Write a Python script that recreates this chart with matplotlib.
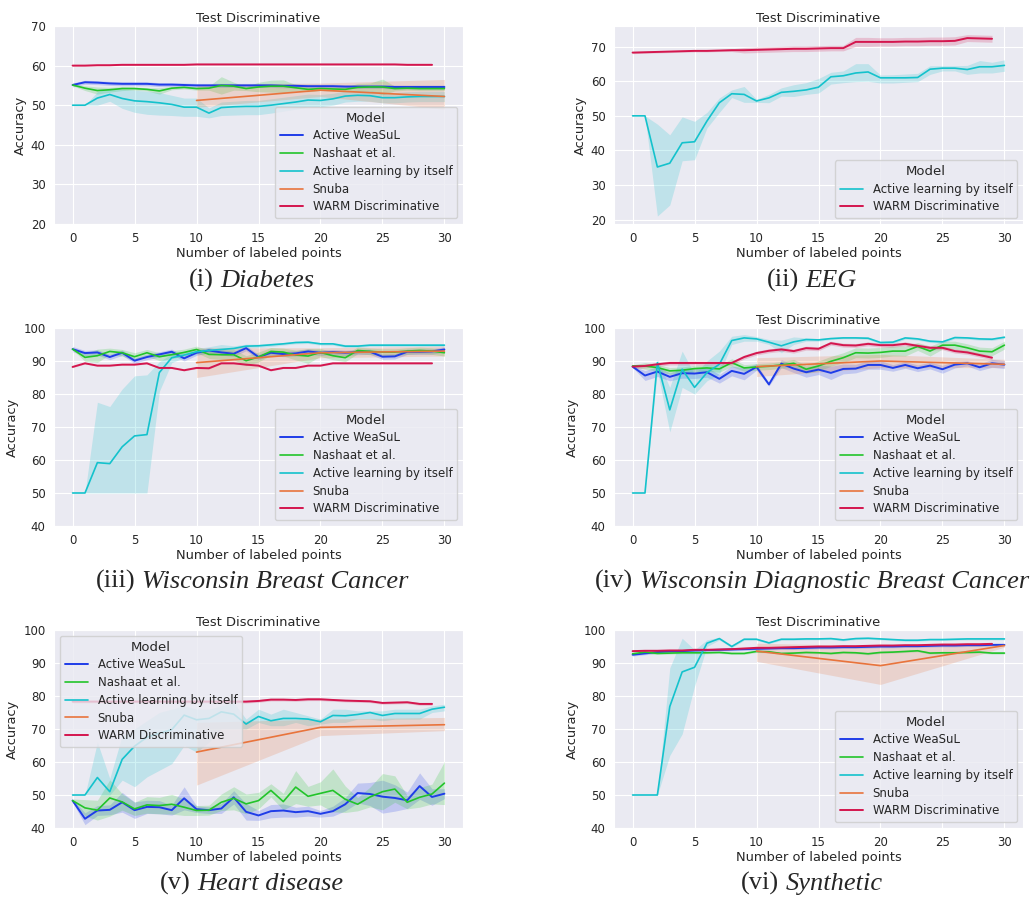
import matplotlib
matplotlib.use("Agg")
import matplotlib.pyplot as plt
import seaborn as sns
import numpy as np

sns.set_style("darkgrid")
plt.rcParams['font.family'] = ['DejaVu Sans']

# colours per model (seaborn-ish palette)
C_WEASUL = '#1f3de8'
C_NASH = '#22c42a'
C_AL = '#14c2cc'
C_SNUBA = '#e8743c'
C_WARM = '#d4164e'

x31 = list(range(31))
x30 = list(range(30))
x_snuba = [10, 20, 30]

# ---------------- (i) Diabetes ----------------
diab_weasul = [55.1, 55.8, 55.7, 55.5, 55.4, 55.4, 55.4, 55.2, 55.2, 55.1, 55.0, 55.0, 55.0, 55.0, 55.0, 55.0,
               55.0, 54.9, 54.9, 54.8, 54.8, 54.8, 54.7, 54.7, 54.7, 54.7, 54.6, 54.6, 54.6, 54.6, 54.6]
diab_weasul_err = 0.5
diab_nash = [55.1, 54.3, 53.7, 53.9, 54.2, 54.2, 54.0, 53.6, 54.3, 54.5, 54.2, 54.3, 55.0, 54.8, 54.2, 54.6,
             54.8, 54.8, 54.4, 54.0, 54.2, 54.1, 54.0, 54.5, 54.6, 54.6, 54.2, 54.3, 54.2, 54.2, 54.2]
diab_nash_err = [0.2, 0.6, 0.9, 0.6, 0.5, 0.4, 0.4, 0.8, 0.4, 0.4, 0.4, 0.5, 2.2, 1.0, 0.5, 1.2,
                 1.5, 1.6, 0.8, 0.6, 0.5, 0.5, 0.6, 1.0, 1.0, 2.0, 0.6, 0.5, 0.5, 0.5, 0.5]
diab_al = [50, 50, 51.8, 52.7, 51.7, 51.1, 50.9, 50.6, 50.2, 49.5, 49.5, 48.0, 49.4, 49.6, 49.7, 49.7,
           50.0, 50.4, 50.8, 51.3, 51.2, 51.6, 52.3, 52.5, 52.4, 51.9, 51.9, 52.1, 52.2, 52.2, 52.2]
diab_al_lo = [50, 50, 50.0, 51.0, 49.2, 48.2, 47.7, 47.5, 47.4, 47.2, 47.2, 46.8, 47.4, 47.5, 47.6, 47.6,
              48.0, 48.5, 49.0, 49.6, 49.6, 50.0, 50.8, 51.0, 51.0, 50.6, 50.6, 50.8, 50.9, 50.9, 50.9]
diab_al_hi = [50, 50, 53.4, 54.3, 54.0, 53.8, 53.5, 53.2, 52.5, 51.8, 51.8, 49.3, 50.8, 51.0, 51.2, 51.2,
              51.6, 52.0, 52.4, 52.8, 52.7, 53.0, 53.6, 53.8, 53.7, 53.2, 53.2, 53.4, 53.5, 53.5, 53.5]
diab_snuba = [51.2, 53.8, 52.2]
diab_snuba_lo = [49.5, 52.2, 49.0]
diab_snuba_hi = [55.3, 55.6, 56.5]
diab_warm = [60.0, 60.0, 60.1, 60.1, 60.2, 60.2, 60.2, 60.2, 60.2, 60.2, 60.3, 60.3, 60.3, 60.3, 60.3,
             60.3, 60.3, 60.3, 60.3, 60.3, 60.3, 60.3, 60.3, 60.3, 60.3, 60.3, 60.3, 60.2, 60.2, 60.2]
diab_warm_err = 0.15

# ---------------- (ii) EEG ----------------
eeg_al = [50, 50, 35.2, 36.3, 42.2, 42.5, 48.5, 53.8, 56.4, 56.2, 54.3, 55.2, 56.8, 57.1, 57.5, 58.3,
          61.3, 61.6, 62.4, 62.7, 61.0, 61.0, 61.0, 61.1, 63.5, 63.8, 63.8, 63.4, 64.2, 64.2, 64.6]
eeg_al_lo = [50, 50, 21.0, 24.2, 37.0, 37.3, 46.5, 51.0, 55.3, 53.9, 53.9, 53.8, 55.7, 55.6, 56.2, 56.6,
             59.2, 59.6, 59.9, 60.0, 59.5, 59.5, 59.7, 59.9, 62.0, 63.0, 63.0, 62.0, 62.4, 62.4, 62.9]
eeg_al_hi = [50, 50, 47.6, 44.5, 49.7, 48.4, 51.0, 55.2, 57.5, 58.5, 54.8, 56.2, 58.1, 59.0, 59.6, 60.8,
             62.6, 63.0, 65.1, 65.1, 61.8, 61.9, 62.1, 62.3, 64.5, 64.5, 64.5, 64.6, 66.0, 65.5, 66.2]
eeg_warm = [68.3, 68.4, 68.5, 68.6, 68.7, 68.8, 68.8, 68.9, 69.0, 69.0, 69.1, 69.2, 69.3, 69.4, 69.4,
            69.5, 69.6, 69.6, 71.4, 71.4, 71.4, 71.4, 71.5, 71.5, 71.6, 71.6, 71.7, 72.5, 72.4, 72.3]
eeg_warm_err = [0.3, 0.3, 0.3, 0.3, 0.3, 0.3, 0.3, 0.3, 0.4, 0.8, 0.8, 0.8, 0.8, 0.8, 0.8,
                0.8, 0.8, 0.8, 1.3, 1.3, 1.2, 1.2, 1.2, 1.2, 1.2, 1.2, 1.2, 1.0, 1.0, 1.0]

# ---------------- (iii) Wisconsin Breast Cancer ----------------
wbc_weasul = [93.6, 92.4, 92.6, 91.2, 92.5, 90.1, 91.2, 92.0, 92.8, 90.8, 92.5, 93.2, 92.6, 92.2, 93.9, 91.2,
              92.5, 92.1, 92.3, 92.9, 92.5, 92.7, 92.5, 92.7, 92.8, 91.3, 91.4, 92.8, 92.8, 92.9, 93.5]
wbc_weasul_err = 0.8
wbc_nash = [93.6, 91.1, 91.6, 92.9, 92.5, 91.3, 92.5, 91.3, 91.9, 92.6, 93.5, 92.0, 91.9, 91.9, 90.1, 91.2,
            92.9, 92.7, 91.8, 91.5, 92.6, 91.6, 91.0, 93.2, 92.9, 92.7, 92.7, 93.0, 93.2, 93.0, 92.5]
wbc_nash_err = [0.2, 1.2, 2.0, 1.0, 1.0, 1.2, 1.0, 1.2, 1.2, 1.0, 1.0, 1.2, 1.5, 1.5, 1.5, 1.5,
                1.2, 1.2, 1.5, 2.2, 1.2, 1.2, 1.2, 1.0, 1.0, 1.0, 1.0, 1.0, 1.0, 1.0, 1.0]
wbc_al = [50, 50, 59.2, 58.9, 64.0, 67.3, 67.7, 86.5, 91.0, 91.8, 92.8, 93.2, 93.5, 93.8, 94.5, 94.6,
          94.9, 95.2, 95.6, 95.7, 95.2, 95.2, 94.5, 94.5, 94.8, 94.8, 94.8, 94.8, 94.8, 94.8, 94.8]
wbc_al_lo = [50, 50, 50, 50, 50, 50, 50, 80.8, 89.5, 91.0, 92.0, 92.4, 92.8, 93.1, 93.9, 94.1,
             94.4, 94.8, 95.2, 95.3, 94.8, 94.8, 94.1, 94.1, 94.4, 94.4, 94.4, 94.4, 94.4, 94.4, 94.4]
wbc_al_hi = [50, 50, 77.5, 76.2, 81.5, 85.5, 85.8, 89.8, 92.2, 93.0, 93.8, 94.3, 95.0, 94.6, 95.1, 95.1,
             95.4, 95.6, 96.0, 96.1, 95.6, 95.6, 95.0, 95.0, 95.2, 95.2, 95.2, 95.2, 95.2, 95.2, 95.2]
wbc_snuba = [89.5, 92.5, 93.0]
wbc_snuba_lo = [85.0, 91.0, 91.5]
wbc_snuba_hi = [94.0, 94.0, 94.5]
wbc_warm = [88.2, 89.3, 88.6, 88.6, 88.9, 88.9, 89.3, 87.9, 87.9, 87.2, 87.9, 87.8, 89.3, 89.3, 88.9,
            88.6, 87.2, 87.9, 87.9, 88.6, 88.6, 89.3, 89.3, 89.3, 89.3, 89.3, 89.3, 89.3, 89.3, 89.3]
wbc_warm_err = 0.2

# ---------------- (iv) Wisconsin Diagnostic Breast Cancer ----------------
wdbc_weasul = [88.3, 85.6, 86.8, 85.2, 86.3, 86.2, 86.6, 84.6, 87.0, 86.1, 88.2, 82.9, 89.2, 87.7, 86.6, 87.4,
               86.4, 87.6, 87.7, 88.8, 88.8, 87.9, 88.8, 87.8, 88.6, 87.5, 88.9, 89.3, 88.1, 89.3, 88.9]
wdbc_weasul_err = [0.3, 1.5, 1.5, 1.2, 1.5, 1.5, 1.5, 1.3, 1.5, 1.8, 1.0, 0.5, 1.2, 1.2, 1.5, 1.5,
                   2.0, 1.5, 1.3, 1.3, 1.3, 1.0, 1.0, 1.0, 1.0, 1.2, 1.0, 0.8, 1.0, 1.2, 1.2]
wdbc_nash = [88.5, 88.5, 88.0, 87.0, 87.2, 87.7, 87.9, 87.6, 89.5, 87.9, 88.2, 88.4, 88.8, 89.3, 87.5, 88.5,
             89.9, 91.0, 92.5, 92.4, 92.6, 93.0, 93.0, 94.4, 93.0, 94.8, 94.8, 94.0, 93.0, 92.8, 94.8]
wdbc_nash_err = [0.3, 1.0, 1.0, 1.0, 1.0, 1.0, 1.0, 1.0, 1.2, 1.0, 1.0, 1.0, 1.0, 1.2, 1.2, 1.5,
                 1.5, 1.5, 1.5, 1.5, 1.5, 1.5, 1.5, 1.2, 1.5, 1.2, 1.2, 1.2, 1.2, 1.2, 1.2]
wdbc_al = [50, 50, 89.5, 75.2, 87.5, 82.0, 86.5, 89.0, 96.2, 97.0, 96.7, 95.7, 94.6, 95.8, 96.5, 96.4,
           96.8, 97.0, 97.0, 96.9, 95.6, 95.7, 97.0, 96.7, 96.0, 95.8, 97.1, 97.0, 96.7, 96.6, 97.2]
wdbc_al_lo = [50, 50, 87.0, 68.5, 82.0, 80.0, 84.0, 86.0, 95.0, 96.0, 96.0, 95.0, 92.5, 95.0, 96.0, 96.0,
              96.5, 96.7, 96.7, 96.5, 95.2, 95.2, 96.6, 96.3, 95.6, 95.4, 96.7, 96.6, 96.3, 96.2, 96.8]
wdbc_al_hi = [50, 50, 90.5, 82.0, 93.0, 86.0, 90.0, 93.0, 97.5, 98.0, 97.4, 96.5, 96.3, 97.3, 97.0, 96.8,
              97.1, 97.3, 97.3, 97.3, 96.0, 96.2, 97.4, 97.1, 96.4, 96.2, 97.5, 97.4, 97.1, 97.0, 97.6]
wdbc_snuba = [88.3, 90.0, 89.0]
wdbc_snuba_lo = [85.3, 88.0, 88.0]
wdbc_snuba_hi = [91.0, 92.0, 90.5]
wdbc_warm = [88.3, 88.5, 89.0, 89.4, 89.4, 89.4, 89.4, 89.4, 89.4, 91.2, 92.4, 93.1, 93.5, 93.0, 93.9,
             93.7, 95.4, 94.8, 94.7, 95.2, 94.8, 94.8, 95.2, 94.6, 94.0, 94.0, 93.0, 92.6, 91.8, 91.0]
wdbc_warm_err = 0.6

# ---------------- (v) Heart disease ----------------
heart_weasul = [48.3, 42.8, 45.3, 45.5, 47.8, 45.4, 46.4, 46.3, 45.4, 49.0, 45.7, 45.4, 45.9, 49.3, 44.9, 43.8,
                45.1, 45.3, 44.8, 45.1, 44.3, 45.1, 47.2, 50.6, 50.3, 49.5, 49.1, 48.4, 52.7, 49.4, 50.4]
heart_weasul_err = [0.5, 1.8, 1.5, 1.5, 3.0, 2.5, 2.0, 2.0, 1.5, 3.5, 1.0, 1.0, 1.5, 2.0, 2.5, 1.5,
                    2.0, 2.0, 1.5, 1.5, 1.0, 1.5, 2.0, 3.0, 3.5, 5.0, 4.0, 2.5, 4.0, 2.5, 1.5]
heart_nash = [48.3, 46.1, 45.4, 49.1, 47.9, 45.8, 47.0, 46.8, 47.2, 46.3, 45.3, 45.4, 47.8, 49.0, 47.3, 48.3,
              51.4, 48.0, 52.4, 49.6, 50.5, 51.4, 48.7, 47.2, 49.4, 51.0, 51.8, 47.8, 49.3, 50.3, 53.6]
heart_nash_err = [0.5, 2.5, 3.0, 5.5, 2.5, 2.0, 2.5, 2.5, 3.0, 2.5, 1.5, 1.5, 2.5, 3.5, 3.0, 2.5,
                  2.0, 2.5, 5.0, 3.0, 3.5, 6.5, 4.0, 2.0, 3.0, 5.5, 4.0, 2.0, 3.0, 3.0, 6.5]
heart_al = [50, 50, 55.3, 51.0, 60.8, 64.8, 67.5, 68.7, 69.8, 74.2, 72.8, 73.2, 75.2, 74.5, 71.5, 73.8,
            72.5, 73.2, 73.2, 73.0, 72.2, 74.1, 74.0, 74.4, 75.0, 74.1, 74.7, 74.7, 74.7, 76.0, 76.6]
heart_al_lo = [50, 50, 50, 50, 54.5, 52.5, 55.5, 57.5, 59.5, 65.0, 63.0, 66.0, 70.0, 70.0, 70.0, 72.0,
               71.0, 71.0, 72.0, 71.0, 71.5, 72.0, 72.0, 73.0, 73.0, 72.5, 73.0, 73.0, 73.0, 75.0, 75.5]
heart_al_hi = [50, 50, 66.0, 55.0, 68.0, 70.0, 72.5, 75.0, 76.0, 77.0, 76.0, 76.0, 77.0, 78.0, 73.0, 76.0,
               74.5, 76.0, 75.0, 74.0, 73.0, 76.0, 76.0, 75.5, 75.5, 75.5, 76.0, 76.0, 76.0, 77.0, 77.5]
heart_snuba = [63.0, 70.5, 71.3]
heart_snuba_lo = [53.0, 68.0, 69.5]
heart_snuba_hi = [72.0, 73.0, 73.5]
heart_warm = [78.3, 78.3, 78.3, 78.3, 78.3, 78.3, 78.3, 78.3, 78.3, 78.3, 78.3, 78.3, 78.3, 78.3, 78.3,
              78.5, 78.9, 78.9, 78.8, 79.0, 79.0, 78.8, 78.6, 78.5, 78.4, 77.9, 78.0, 78.1, 77.6, 77.6]
heart_warm_err = 0.4

# ---------------- (vi) Synthetic ----------------
syn_weasul = [92.5, 92.9, 93.3, 93.5, 93.6, 93.8, 93.9, 94.0, 94.1, 94.2, 94.3, 94.4, 94.5, 94.5, 94.6, 94.7,
              94.7, 94.8, 94.8, 94.9, 95.0, 95.0, 95.1, 95.1, 95.2, 95.3, 95.3, 95.4, 95.4, 95.5, 95.5]
syn_weasul_err = 0.4
syn_nash = [92.8, 93.3, 92.9, 93.0, 93.1, 93.1, 93.1, 93.2, 92.9, 92.9, 93.5, 93.4, 92.9, 93.0, 93.2, 93.1,
            92.9, 93.2, 93.1, 92.8, 93.2, 93.3, 93.5, 93.7, 93.0, 93.1, 93.1, 93.2, 93.3, 93.0, 93.0]
syn_nash_err = 0.3
syn_al = [50, 50, 50, 76.8, 87.3, 88.7, 96.0, 97.4, 95.0, 97.2, 97.2, 96.1, 97.2, 97.2, 97.3, 97.3,
          97.4, 97.0, 97.4, 97.5, 97.3, 97.1, 96.9, 96.9, 97.1, 97.1, 97.2, 97.3, 97.3, 97.3, 97.3]
syn_al_lo = [50, 50, 50, 62.0, 68.5, 83.0, 95.0, 97.0, 94.6, 96.9, 96.9, 95.8, 96.9, 96.9, 97.0, 97.0,
             97.1, 96.7, 97.1, 97.2, 97.0, 96.8, 96.6, 96.6, 96.8, 96.8, 96.9, 97.0, 97.0, 97.0, 97.0]
syn_al_hi = [50, 50, 50, 88.5, 97.5, 94.0, 97.0, 97.8, 95.4, 97.5, 97.5, 96.4, 97.5, 97.5, 97.6, 97.6,
             97.7, 97.3, 97.7, 97.8, 97.6, 97.4, 97.2, 97.2, 97.4, 97.4, 97.5, 97.6, 97.6, 97.6, 97.6]
syn_snuba = [93.6, 89.2, 95.3]
syn_snuba_lo = [90.5, 83.5, 94.8]
syn_snuba_hi = [96.0, 95.2, 95.8]
syn_warm = [93.6, 93.7, 93.7, 93.8, 93.8, 94.0, 94.0, 94.1, 94.2, 94.4, 94.6, 94.6, 94.7, 94.8, 94.9,
            95.0, 95.0, 95.1, 95.1, 95.2, 95.3, 95.3, 95.4, 95.4, 95.5, 95.6, 95.6, 95.7, 95.7, 95.8]
syn_warm_err = 0.2


def draw(ax, x, y, color, label, lo=None, hi=None, err=None, lw=1.2):
    y = np.asarray(y, dtype=float)
    if err is not None:
        lo = y - np.asarray(err)
        hi = y + np.asarray(err)
    ax.fill_between(x, lo, hi, color=color, alpha=0.2, linewidth=0)
    ax.plot(x, y, color=color, lw=lw, label=label)


def style(ax, ylim, yticks, legend_loc):
    ax.set_xlim(-1.5, 31.5)
    ax.set_ylim(*ylim)
    ax.set_xticks([0, 5, 10, 15, 20, 25, 30])
    ax.set_yticks(yticks)
    ax.tick_params(labelsize=8.5, pad=2.5)
    ax.set_title('Test Discriminative', fontsize=9.4, pad=3)
    ax.set_xlabel('Number of labeled points', fontsize=9.4, labelpad=1)
    ax.set_ylabel('Accuracy', fontsize=9.4, labelpad=3)
    ax.legend(loc=legend_loc, title='Model', fontsize=8.5, title_fontsize=9.5, labelspacing=0.4)


fig = plt.figure(figsize=(10.34, 8.99), dpi=100)
W, H = 1034, 899


def axes_at(left, top):
    return fig.add_axes([left / W, 1 - (top + 198) / H, 409 / W, 198 / H])


# (i)
ax = axes_at(54, 26)
draw(ax, x31, diab_weasul, C_WEASUL, 'Active WeaSuL', err=diab_weasul_err, lw=1.4)
draw(ax, x31, diab_nash, C_NASH, 'Nashaat et al.', err=diab_nash_err)
draw(ax, x31, diab_al, C_AL, 'Active learning by itself', lo=diab_al_lo, hi=diab_al_hi)
draw(ax, x_snuba, diab_snuba, C_SNUBA, 'Snuba', lo=diab_snuba_lo, hi=diab_snuba_hi)
draw(ax, x30, diab_warm, C_WARM, 'WARM Discriminative', err=diab_warm_err, lw=1.4)
style(ax, (20, 70), range(20, 71, 10), 'lower right')

# (ii)
ax = axes_at(614, 26)
draw(ax, x31, eeg_al, C_AL, 'Active learning by itself', lo=eeg_al_lo, hi=eeg_al_hi)
draw(ax, x30, eeg_warm, C_WARM, 'WARM Discriminative', err=eeg_warm_err, lw=1.4)
style(ax, (18.7, 76), range(20, 71, 10), 'lower right')

# (iii)
ax = axes_at(54, 328)
draw(ax, x31, wbc_weasul, C_WEASUL, 'Active WeaSuL', err=wbc_weasul_err, lw=1.4)
draw(ax, x31, wbc_nash, C_NASH, 'Nashaat et al.', err=wbc_nash_err)
draw(ax, x31, wbc_al, C_AL, 'Active learning by itself', lo=wbc_al_lo, hi=wbc_al_hi)
draw(ax, x_snuba, wbc_snuba, C_SNUBA, 'Snuba', lo=wbc_snuba_lo, hi=wbc_snuba_hi)
draw(ax, x30, wbc_warm, C_WARM, 'WARM Discriminative', err=wbc_warm_err, lw=1.4)
style(ax, (40, 100), range(40, 101, 10), 'lower right')

# (iv)
ax = axes_at(614, 328)
draw(ax, x31, wdbc_weasul, C_WEASUL, 'Active WeaSuL', err=wdbc_weasul_err, lw=1.4)
draw(ax, x31, wdbc_nash, C_NASH, 'Nashaat et al.', err=wdbc_nash_err)
draw(ax, x31, wdbc_al, C_AL, 'Active learning by itself', lo=wdbc_al_lo, hi=wdbc_al_hi)
draw(ax, x_snuba, wdbc_snuba, C_SNUBA, 'Snuba', lo=wdbc_snuba_lo, hi=wdbc_snuba_hi)
draw(ax, x30, wdbc_warm, C_WARM, 'WARM Discriminative', err=wdbc_warm_err, lw=1.4)
style(ax, (40, 100), range(40, 101, 10), 'lower right')

# (v)
ax = axes_at(54, 630)
draw(ax, x31, heart_weasul, C_WEASUL, 'Active WeaSuL', err=heart_weasul_err, lw=1.4)
draw(ax, x31, heart_nash, C_NASH, 'Nashaat et al.', err=heart_nash_err)
draw(ax, x31, heart_al, C_AL, 'Active learning by itself', lo=heart_al_lo, hi=heart_al_hi)
draw(ax, x_snuba, heart_snuba, C_SNUBA, 'Snuba', lo=heart_snuba_lo, hi=heart_snuba_hi)
draw(ax, x30, heart_warm, C_WARM, 'WARM Discriminative', err=heart_warm_err, lw=1.4)
style(ax, (40, 100), range(40, 101, 10), 'upper left')

# (vi)
ax = axes_at(614, 630)
draw(ax, x31, syn_weasul, C_WEASUL, 'Active WeaSuL', err=syn_weasul_err, lw=1.4)
draw(ax, x31, syn_nash, C_NASH, 'Nashaat et al.', err=syn_nash_err)
draw(ax, x31, syn_al, C_AL, 'Active learning by itself', lo=syn_al_lo, hi=syn_al_hi)
draw(ax, x_snuba, syn_snuba, C_SNUBA, 'Snuba', lo=syn_snuba_lo, hi=syn_snuba_hi)
draw(ax, x30, syn_warm, C_WARM, 'WARM Discriminative', err=syn_warm_err, lw=1.4)
style(ax, (40, 100), range(40, 101, 10), 'lower right')

# captions: roman number + italic dataset name, centred together
captions = [(252, 287, '(i)', 'Diabetes'), (812, 287, '(ii)', 'EEG'),
            (252, 588, '(iii)', 'Wisconsin Breast Cancer'),
            (812, 588, '(iv)', 'Wisconsin Diagnostic Breast Cancer'),
            (252, 890, '(v)', 'Heart disease'), (812, 890, '(vi)', 'Synthetic')]
CAP_SIZE = 19
renderer = fig.canvas.get_renderer()
for cx, cy, num, name in captions:
    t1 = fig.text(0, 1 - cy / H, num, family='Liberation Serif', size=CAP_SIZE, va='baseline')
    t2 = fig.text(0, 1 - cy / H, name, family='Liberation Serif', style='italic', size=CAP_SIZE, va='baseline')
    w1 = t1.get_window_extent(renderer).width
    w2 = t2.get_window_extent(renderer).width
    gap = 0.25 * CAP_SIZE * 100 / 72
    x0 = cx - (w1 + gap + w2) / 2
    t1.set_x(x0 / W)
    t2.set_x((x0 + w1 + gap) / W)

fig.savefig('out.png', dpi=100)
